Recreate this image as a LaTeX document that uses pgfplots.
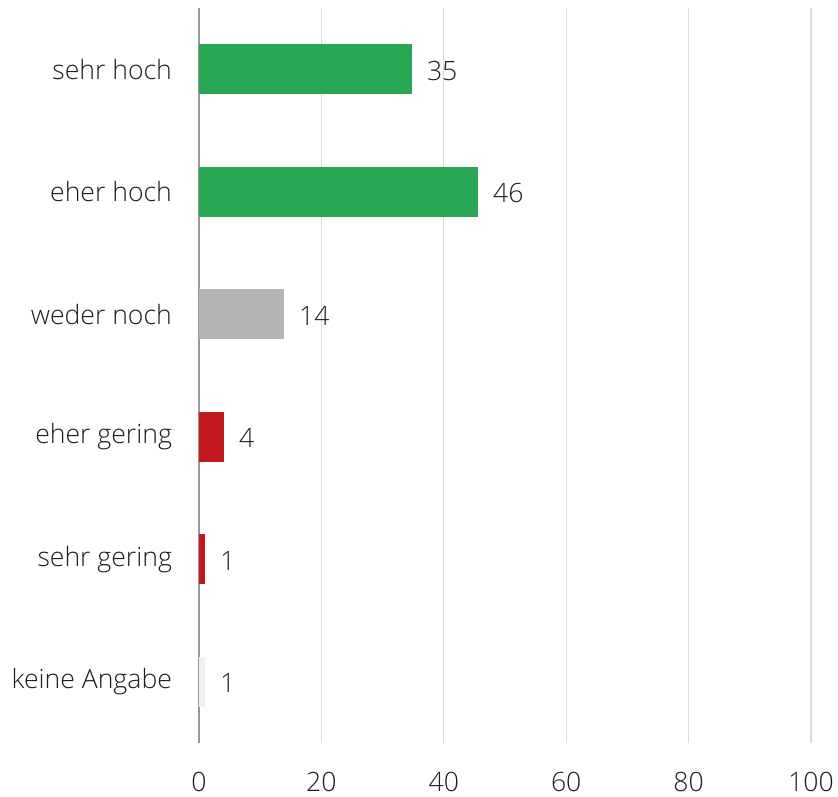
\documentclass[border=0pt]{standalone}
\usepackage{fontspec}
\setmainfont{Open Sans}[UprightFont={* Light}]
\usepackage{pgfplots}
\pgfplotsset{compat=1.18}
\definecolor{cgreen}{RGB}{41,168,84}
\definecolor{cgrey}{RGB}{179,179,179}
\definecolor{cred}{RGB}{192,24,28}
\definecolor{clight}{RGB}{240,240,240}
\definecolor{ctext}{RGB}{30,30,30}
\begin{document}
\begin{tikzpicture}
\begin{axis}[
  at={(0,0)}, anchor=south west,
  scale only axis, width=306pt, height=367.5pt,
  xbar, bar width=25pt, bar shift=0pt,
  xmin=0, xmax=100, ymin=-0.5, ymax=5.5, y dir=reverse,
  xtick={0,20,40,60,80,100},
  ytick={0,1,2,3,4,5},
  yticklabels={sehr hoch,eher hoch,weder noch,eher gering,sehr gering,keine Angabe},
  axis lines=left,
  axis line style={-},
  x axis line style={draw=none},
  y axis line style={draw=black!40, line width=0.8pt},
  major tick length=0pt,
  xmajorgrids, grid style={draw=black!15, line width=0.6pt},
  tick label style={font=\fontsize{13.3}{16}\selectfont, text=ctext},
  /pgf/number format/assume math mode=true,
  xticklabel style={yshift=-11pt},
  yticklabel style={xshift=-10pt},
  nodes near coords, point meta=explicit symbolic,
  nodes near coords style={anchor=west, xshift=4pt, yshift=-0.8pt, font=\fontsize{13.3}{16}\selectfont, text=ctext},
  clip=false,
]
\addplot[fill=cgreen, draw=none] coordinates {(34.8,0) [35]};
\addplot[fill=cgreen, draw=none] coordinates {(45.6,1) [46]};
\addplot[fill=cgrey, draw=none] coordinates {(13.9,2) [14]};
\addplot[fill=cred, draw=none] coordinates {(4.1,3) [4]};
\addplot[fill=cred, draw=none] coordinates {(1.0,4) [1]};
\addplot[fill=clight, draw=none] coordinates {(1.0,5) [1]};
\end{axis}
\pgfresetboundingbox
\path (-99.5pt,-26.5pt) rectangle (319.5pt,371.5pt);
\end{tikzpicture}
\end{document}
